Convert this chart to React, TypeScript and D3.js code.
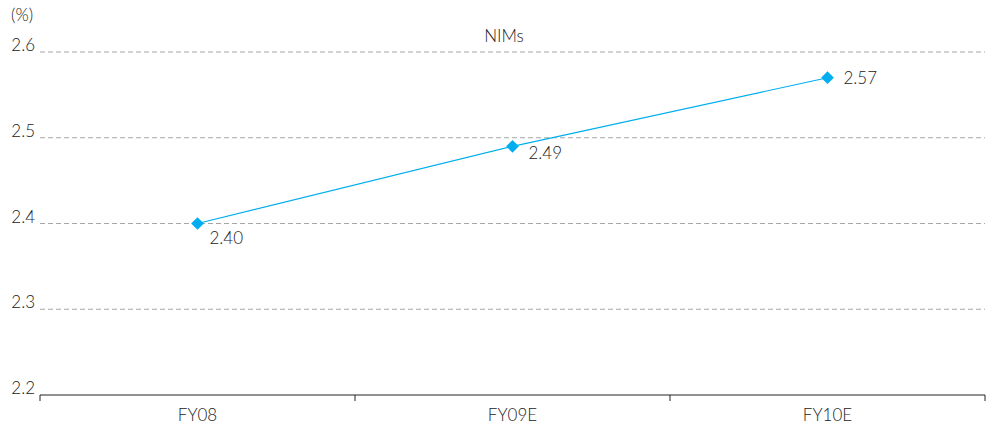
import React from "react";
import * as d3 from "d3";

const categories = ["FY08", "FY09E", "FY10E"];
const nims = [2.4, 2.49, 2.57];
const yTicks = [2.2, 2.3, 2.4, 2.5, 2.6];
const title = "NIMs";
const unit = "(%)";

const W = 987;
const H = 427;
const margin = { left: 40, right: 2, top: 52, bottom: 32 };
const FONT = "Lato, 'Open Sans', sans-serif";
const BLUE = "#00aeef";
const TEXT = "#222";

export default function App() {
  const x = d3
    .scaleBand<string>()
    .domain(categories)
    .range([margin.left, W - margin.right]);
  const y = d3
    .scaleLinear()
    .domain([2.2, 2.6])
    .range([H - margin.bottom, margin.top]);

  const pts = categories.map((c, i) => ({
    c,
    v: nims[i],
    px: (x(c) as number) + x.bandwidth() / 2,
    py: y(nims[i]),
  }));
  const line = d3
    .line<{ px: number; py: number }>()
    .x((d) => d.px)
    .y((d) => d.py);

  // value labels sit below-right of each marker, the last one beside it
  const labelPlacement = [
    { dx: 12, dy: 20 },
    { dx: 16, dy: 13 },
    { dx: 16, dy: 6 },
  ];

  const boundaries = [...categories.map((c) => x(c) as number), W - margin.right];
  const axisY = y(2.2);

  return (
    <svg
      width={W}
      height={H}
      style={{ position: "absolute", left: 0, top: 0, background: "#fff" }}
      fontFamily={FONT}
      fontWeight={300}
    >
      <text x={11} y={21} fontSize={17} fill={TEXT}>
        {unit}
      </text>
      <text x={504} y={42} fontSize={17} fill={TEXT} textAnchor="middle">
        {title}
      </text>
      {yTicks.map((t) => (
        <g key={t}>
          {t > 2.2 && (
            <line
              x1={margin.left}
              x2={W - margin.right}
              y1={y(t)}
              y2={y(t)}
              stroke="#a6a6a6"
              strokeDasharray="5,3"
              strokeWidth={1}
            />
          )}
          <text x={35} y={y(t) - 1} fontSize={17} fill={TEXT} textAnchor="end">
            {t.toFixed(1)}
          </text>
        </g>
      ))}
      <line x1={margin.left} x2={W - margin.right} y1={axisY} y2={axisY} stroke="#222" strokeWidth={1} />
      {boundaries.map((bx, i) => (
        <line key={i} x1={bx} x2={bx} y1={axisY} y2={axisY + 6} stroke="#222" strokeWidth={1} />
      ))}
      {categories.map((c) => (
        <text
          key={c}
          x={(x(c) as number) + x.bandwidth() / 2}
          y={axisY + 26}
          fontSize={17}
          fill={TEXT}
          textAnchor="middle"
        >
          {c}
        </text>
      ))}
      <path d={line(pts) || ""} fill="none" stroke={BLUE} strokeWidth={1.2} />
      {pts.map((p, i) => (
        <g key={p.c}>
          <rect
            x={p.px - 4.5}
            y={p.py - 4.5}
            width={9}
            height={9}
            fill={BLUE}
            transform={`rotate(45 ${p.px} ${p.py})`}
          />
          <text
            x={p.px + labelPlacement[i].dx}
            y={p.py + labelPlacement[i].dy}
            fontSize={17}
            fill={TEXT}
          >
            {p.v.toFixed(2)}
          </text>
        </g>
      ))}
    </svg>
  );
}
